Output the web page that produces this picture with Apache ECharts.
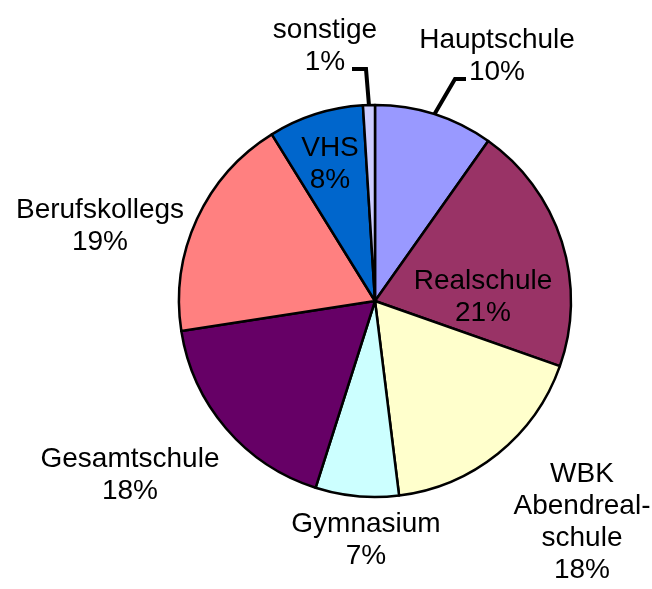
<!DOCTYPE html>
<html>
<head>
<meta charset="utf-8">
<script src="https://cdn.jsdelivr.net/npm/echarts@6/dist/echarts.min.js"></script>
<style>
html,body{margin:0;padding:0;background:#fff;}
#chart{width:652px;height:589px;}
</style>
</head>
<body>
<div id="chart"></div>
<script>
// Data
var categories = ['Hauptschule', 'Realschule', 'WBK\nAbendreal-\nschule', 'Gymnasium', 'Gesamtschule', 'Berufskollegs', 'VHS', 'sonstige'];
var values = [10, 21, 18, 7, 18, 19, 8, 1];
var colors = ['#9999FF', '#993366', '#FFFFCC', '#CCFFFF', '#660066', '#FF8080', '#0066CC', '#CCCCFF'];

// Label placement (centre of each label block, px)
var labelPos = [[497, 56], [483, 297], [582, 522], [366, 540], [130, 475], [100, 226], [330, 164], [325, 46]];
// Leader line elbows for labels that have one
var leaderPts = {
  0: [[455, 79], [466, 79]],
  7: [[366, 69], [352, 69]]
};

var data = categories.map(function (c, i) {
  var d = { name: c, value: values[i], itemStyle: { color: colors[i] } };
  d.labelLine = { show: !!leaderPts[i] };
  return d;
});

var chart = echarts.init(document.getElementById('chart'), null, { renderer: 'canvas' });
chart.setOption({
  backgroundColor: '#ffffff',
  animation: false,
  series: [{
    type: 'pie',
    center: [375, 301],
    radius: 196,
    startAngle: 90,
    clockwise: true,
    avoidLabelOverlap: false,
    data: data,
    itemStyle: { borderColor: '#000000', borderWidth: 2.5 },
    label: {
      show: true,
      position: 'outside',
      formatter: '{b}\n{c}%',
      fontFamily: '"Liberation Sans", Arial, sans-serif',
      fontSize: 28,
      lineHeight: 32,
      color: '#000000',
      align: 'center'
    },
    labelLine: {
      show: false,
      length: 10,
      length2: 10,
      lineStyle: { color: '#000000', width: 4 }
    },
    labelLayout: function (params) {
      var i = params.dataIndex;
      var p = labelPos[i];
      var res = { x: p[0], y: p[1], align: 'center', verticalAlign: 'middle' };
      if (leaderPts[i] && params.labelLinePoints) {
        var start = params.labelLinePoints[0];
        res.labelLinePoints = [start, leaderPts[i][0], leaderPts[i][1]];
      }
      return res;
    }
  }]
});
</script>
</body>
</html>
